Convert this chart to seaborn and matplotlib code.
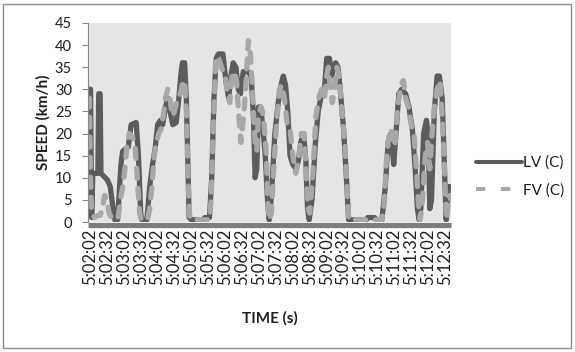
import matplotlib
matplotlib.use("Agg")
import matplotlib.pyplot as plt
from matplotlib.patches import Rectangle
import seaborn as sns
import pandas as pd

# Seconds after 5:02:02 and speed (km/h) at each vertex of the leader vehicle trace
lv_time = [-3, 1, 3, 5, 14, 15.5, 18, 19.5, 27, 31, 36, 40, 44, 49, 55, 58, 68, 73, 82,
           86, 90, 92, 101, 106, 111, 116, 120, 125, 129, 134, 138, 142, 147, 153, 157,
           161, 164, 168, 171, 174, 176, 180, 200, 204, 212, 216, 220, 224, 228, 236,
           241, 246, 250, 254, 259, 263, 267, 272, 280, 286, 290, 293, 296, 299, 303,
           307, 311, 315, 318, 322, 328, 334, 339, 343, 347, 351, 355, 360, 366, 370,
           374, 379, 383, 386, 389, 394, 400, 405, 411, 416, 420, 425, 429, 432, 436,
           440, 444, 450, 455, 459, 490, 493, 505, 508, 518, 524, 529, 534, 539, 543,
           548, 553, 560, 566, 572, 577, 581, 584, 587, 592, 597, 600, 603, 606, 611,
           616, 620, 625, 629, 632, 636, 641]
lv_speed = [30, 30, 1, 11, 11, 29, 29, 11, 10, 9.5, 8, 4, 0.5, 0.5, 13, 16, 17, 22, 22.5,
            15, 2, 0.5, 0.5, 8, 13, 17, 22, 23, 22, 26, 28, 25, 22, 22.5, 27,
            33, 36, 36, 28, 12, 1, 0.5, 0.5, 1, 1, 10, 28, 37, 38, 38,
            32, 28, 33, 36, 35, 30, 29, 34, 34, 33, 24, 10, 12, 26, 26,
            21, 15, 5, 0.5, 6, 20, 27, 31, 33, 31, 25, 15, 13, 12, 14,
            18, 20, 14, 3, 0.5, 5, 18, 25, 29, 30, 37, 37, 33, 35, 36,
            35, 30, 21, 10, 0.5, 0.5, 1, 1, 0.5, 0.5, 8, 18, 20, 13, 20,
            29, 30, 29, 26, 21, 12, 3, 0.5, 3, 20, 23, 20, 3, 5, 25,
            33, 33, 28, 12, 0.5, 8, 8]

# Seconds after 5:02:02 and speed (km/h) at each vertex of the follower vehicle trace
fv_time = [-3, -1, 1, 3, 8, 14, 18, 22, 26, 30, 34, 38, 46, 50, 54, 58, 62, 66, 70, 76,
           80, 84, 88, 91, 102, 106, 110, 114, 118, 122, 126, 130, 134, 138, 142, 146,
           150, 155, 160, 164, 168, 171, 174, 177, 180, 212, 215, 219, 223, 227, 231,
           236, 240, 244, 248, 252, 256, 260, 264, 268, 271, 274, 278, 281, 284, 287,
           290, 293, 296, 299, 303, 306, 309, 313, 316, 318, 322, 326, 331, 336, 340,
           345, 350, 355, 360, 365, 370, 375, 380, 384, 387, 390, 395, 401, 406, 411,
           416, 420, 423, 427, 430, 434, 438, 442, 447, 452, 456, 459, 518, 522, 527,
           532, 537, 541, 546, 552, 556, 560, 565, 570, 575, 579, 583, 586, 590, 595,
           599, 603, 607, 612, 616, 621, 624, 628, 631, 633, 637, 641]
fv_speed = [28, 28, 10, 2, 1, 1.5, 1.5, 3, 6, 5, 2, 1, 0.5, 1, 5, 8, 12, 18, 20, 19,
            17, 10, 2, 0.5, 0.5, 3, 8, 15, 18, 20, 21, 24, 28, 30, 28, 24,
            25, 28, 29, 31, 32, 25, 10, 1, 0.5, 0.5, 5, 22, 36, 37.5, 36,
            34, 33, 29, 27, 33, 34, 32, 24, 18, 22, 26, 34, 41, 39, 33,
            25, 18, 16, 24, 26, 25, 22, 15, 3, 0.5, 2, 12, 22, 30, 31,
            28, 22, 21, 15, 11, 14, 20, 20, 10, 3, 2, 10, 24, 28, 30,
            28, 33, 35, 30, 27, 30, 35, 33, 25, 18, 8, 0.5, 0.5, 4, 16,
            21, 20, 17, 26, 31, 32, 28, 26, 22, 20, 12, 4, 0.5, 5, 15,
            18, 12, 20, 27, 30, 32, 26, 16, 5, 0.5, 6, 5]

tick_seconds = list(range(0, 631, 30))
tick_labels = ["5:02:02", "5:02:32", "5:03:02", "5:03:32", "5:04:02", "5:04:32",
               "5:05:02", "5:05:32", "5:06:02", "5:06:32", "5:07:02", "5:07:32",
               "5:08:02", "5:08:32", "5:09:02", "5:09:32", "5:10:02", "5:10:32",
               "5:11:02", "5:11:32", "5:12:02", "5:12:32"]

lv = pd.DataFrame({"t": lv_time, "speed": lv_speed})
fv = pd.DataFrame({"t": fv_time, "speed": fv_speed})

sns.set_theme(style="white")
plt.rcParams["font.family"] = ["Lato", "DejaVu Sans"]

fig = plt.figure(figsize=(5.75, 3.52), dpi=100)
fig.patch.set_facecolor("white")
W, H = 575, 352
left, right, top, bottom = 88, 451, 23, 222
ax = fig.add_axes([left / W, 1 - bottom / H, (right - left) / W, (bottom - top) / H])
ax.set_facecolor("#e5e5e5")

sns.lineplot(data=lv, x="t", y="speed", ax=ax, color="#5c5c5c", lw=3.8,
             estimator=None, sort=False, label="LV (C)")
sns.lineplot(data=fv, x="t", y="speed", ax=ax, color="#a8a8a8", lw=3.8,
             estimator=None, sort=False, label="FV (C)")
for ln in ax.lines:
    ln.set_solid_capstyle("round")
    ln.set_solid_joinstyle("round")
fv_line = ax.lines[1]
fv_line.set_dashes((1.9, 1.9))
fv_line.set_dash_capstyle("round")
fv_line.set_dash_joinstyle("round")

ax.set_xlim(-3.5, 640.6)
ax.set_ylim(0, 45)
ax.set_yticks(range(0, 46, 5))
ax.set_xticks(tick_seconds)
ax.set_xticklabels(tick_labels)
ax.tick_params(axis="x", labelrotation=90, labelsize=12, labelcolor="#1e1e1e",
               length=0, pad=3)
ax.tick_params(axis="y", labelsize=10.5, labelcolor="#1e1e1e", length=4, width=0.8,
               color="#888888", direction="out", left=True, pad=7.5)

for side in ("top", "right"):
    ax.spines[side].set_visible(False)
ax.spines["left"].set_color("#888888")
ax.spines["left"].set_linewidth(0.8)
ax.spines["bottom"].set_color("#7d7d7d")
ax.spines["bottom"].set_linewidth(3.8)
ax.spines["bottom"].set_position(("outward", 1.9))
ax.spines["bottom"].set_capstyle("butt")

ax.set_xlabel("TIME (s)", fontsize=11, fontweight="bold", color="#1e1e1e", labelpad=19)
ax.set_ylabel("SPEED (km/h)", fontsize=11, fontweight="bold", color="#1e1e1e", labelpad=3)

handles, labels = ax.get_legend_handles_labels()
if ax.get_legend() is not None:
    ax.get_legend().remove()
leg = fig.legend(handles, labels, loc="center left", bbox_to_anchor=(476 / W, 1 - 176.5 / H),
                 frameon=False, fontsize=11, handlelength=3.0, handletextpad=0.1,
                 labelspacing=0.85, borderpad=0, borderaxespad=0)
for t in leg.get_texts():
    t.set_color("#1e1e1e")
leg_lines = leg.get_lines()
for h in leg_lines:
    h.set_linewidth(2.9)
leg_lines[1].set_dashes((2.3, 3.9))
leg_lines[1].set_dash_capstyle("butt")

fig.patches.append(Rectangle((3 / W, 4 / H), 568 / W, 344 / H, transform=fig.transFigure,
                             fill=False, edgecolor="#8c8c8c", lw=1.0))

fig.savefig("out.png", dpi=100)
